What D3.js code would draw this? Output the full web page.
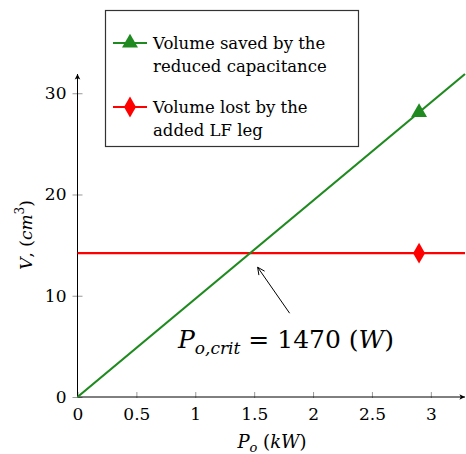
<!DOCTYPE html>
<html>
<head>
<meta charset="utf-8">
<script src="https://cdn.jsdelivr.net/npm/d3@7"></script>
<style>
  body { margin: 0; background: #fff; }
</style>
</head>
<body>
<script>
// data
var powerRange = [0, 3.29];          // kW, end of x axis
var volumeRange = [0, 31.9];         // cm^3, end of y axis
var xTicks = [0, 0.5, 1, 1.5, 2, 2.5, 3];
var yTicks = [0, 10, 20, 30];
var linePower = [0, 3.29];
var savedVolume = [0, 31.9];         // volume saved by the reduced capacitance
var lostVolume = [14.2, 14.2];       // volume lost by the added LF leg
var markPower = 2.9;
var savedMark = 28.1;
var lostMark = 14.2;
var critPower = 1.47;

var width = 466, height = 454;
var green = "#1f8a1f", red = "#ff0000";
var serif = "DejaVu Serif";

var svg = d3.select("body").append("svg")
    .attr("width", width)
    .attr("height", height)
    .attr("font-family", serif);

// arrow head for axes
svg.append("defs").append("marker")
    .attr("id", "arr")
    .attr("viewBox", "0 0 10 10")
    .attr("refX", 9).attr("refY", 5)
    .attr("markerWidth", 7).attr("markerHeight", 7)
    .attr("markerUnits", "userSpaceOnUse")
    .attr("orient", "auto")
    .append("path")
    .attr("d", "M1,1 L9,5 L1,9 L3,5 Z")
    .attr("fill", "#000");

var x = d3.scaleLinear().domain(powerRange).range([77.5, 465]);
var y = d3.scaleLinear().domain(volumeRange).range([397, 74]);

// x axis
var xAxis = svg.append("g")
    .attr("transform", "translate(0," + y(0) + ")")
    .call(d3.axisBottom(x).tickValues(xTicks).tickSize(0).tickPadding(11)
        .tickFormat(function(d) { return String(d); }));
xAxis.attr("font-family", serif).attr("font-size", 17);
xAxis.select(".domain").remove();
xAxis.selectAll(".tick").append("line")
    .attr("y1", -5).attr("y2", 1)
    .attr("stroke", "#999");

// y axis
var yAxis = svg.append("g")
    .attr("transform", "translate(" + x(0) + ",0)")
    .call(d3.axisLeft(y).tickValues(yTicks).tickSize(0).tickPadding(11));
yAxis.attr("font-family", serif).attr("font-size", 17);
yAxis.select(".domain").remove();
yAxis.selectAll(".tick").append("line")
    .attr("x1", -5).attr("x2", 5)
    .attr("stroke", "#999");

// axis lines with arrows
svg.append("line")
    .attr("x1", x(0)).attr("y1", y(0))
    .attr("x2", x(powerRange[1])).attr("y2", y(0))
    .attr("stroke", "#000").attr("marker-end", "url(#arr)");
svg.append("line")
    .attr("x1", x(0)).attr("y1", y(0))
    .attr("x2", x(0)).attr("y2", y(volumeRange[1]))
    .attr("stroke", "#000").attr("marker-end", "url(#arr)");

// series lines
var line = d3.line()
    .x(function(d) { return x(d[0]); })
    .y(function(d) { return y(d[1]); });

svg.append("path")
    .datum(d3.zip(linePower, lostVolume))
    .attr("d", line)
    .attr("fill", "none").attr("stroke", red).attr("stroke-width", 2.2);

svg.append("path")
    .datum(d3.zip(linePower, savedVolume))
    .attr("d", line)
    .attr("fill", "none").attr("stroke", green).attr("stroke-width", 2.2);

var tri = d3.symbol().type(d3.symbolTriangle).size(110);
var dia = d3.symbol().type(d3.symbolDiamond).size(125);

svg.append("path")
    .attr("d", tri)
    .attr("transform", "translate(" + x(markPower) + "," + y(savedMark) + ")")
    .attr("fill", green);
svg.append("path")
    .attr("d", dia)
    .attr("transform", "translate(" + x(markPower) + "," + y(lostMark) + ")")
    .attr("fill", red);

// annotation arrow pointing at the crossing
var tipX = x(critPower) + 7, tipY = y(lostMark) + 14;
svg.append("line")
    .attr("x1", tipX + 32).attr("y1", tipY + 46)
    .attr("x2", tipX).attr("y2", tipY)
    .attr("stroke", "#000").attr("stroke-width", 1);
var ang = Math.atan2(46, 32);
[-0.45, 0.45].forEach(function(o) {
    svg.append("line")
        .attr("x1", tipX).attr("y1", tipY)
        .attr("x2", tipX + 8 * Math.cos(ang + o))
        .attr("y2", tipY + 8 * Math.sin(ang + o))
        .attr("stroke", "#000").attr("stroke-width", 1);
});

var ann = svg.append("text")
    .attr("x", 178).attr("y", 348)
    .attr("font-size", 25);
ann.append("tspan").attr("font-style", "italic").text("P");
ann.append("tspan").attr("font-style", "italic").attr("font-size", 17)
    .attr("dy", 6).text("o,crit");
ann.append("tspan").attr("dy", -6).text(" = 1470 (");
ann.append("tspan").attr("font-style", "italic").text("W");
ann.append("tspan").text(")");

// axis labels
var xl = svg.append("text")
    .attr("x", 272).attr("y", 448)
    .attr("text-anchor", "middle").attr("font-size", 18);
xl.append("tspan").attr("font-style", "italic").text("P");
xl.append("tspan").attr("font-style", "italic").attr("font-size", 13).attr("dy", 4).text("o");
xl.append("tspan").attr("dy", -4).text(" (");
xl.append("tspan").attr("font-style", "italic").text("kW");
xl.append("tspan").text(")");

var yl = svg.append("text")
    .attr("transform", "translate(32,235) rotate(-90)")
    .attr("text-anchor", "middle").attr("font-size", 17);
yl.append("tspan").attr("font-style", "italic").text("V");
yl.append("tspan").text(", (");
yl.append("tspan").attr("font-style", "italic").text("cm");
yl.append("tspan").attr("font-size", 12).attr("dy", -8).text("3");
yl.append("tspan").attr("dy", 8).text(")");

// legend
var legend = svg.append("g");
legend.append("rect")
    .attr("x", 105.5).attr("y", 10.5)
    .attr("width", 253).attr("height", 136)
    .attr("fill", "#fff").attr("stroke", "#333").attr("stroke-width", 1.2);

var entries = [
    { color: green, sym: tri, lines: ["Volume saved by the", "reduced capacitance"], cy: 43 },
    { color: red, sym: dia, lines: ["Volume lost by the", "added LF leg"], cy: 107 }
];
entries.forEach(function(e) {
    legend.append("line")
        .attr("x1", 113).attr("x2", 147)
        .attr("y1", e.cy).attr("y2", e.cy)
        .attr("stroke", e.color).attr("stroke-width", 2.2);
    legend.append("path")
        .attr("d", e.sym)
        .attr("transform", "translate(130," + e.cy + ")")
        .attr("fill", e.color);
    e.lines.forEach(function(t, i) {
        legend.append("text")
            .attr("x", 153).attr("y", e.cy + 5.5 + i * 23.5)
            .attr("font-size", 16.5)
            .text(t);
    });
});
</script>
</body>
</html>
